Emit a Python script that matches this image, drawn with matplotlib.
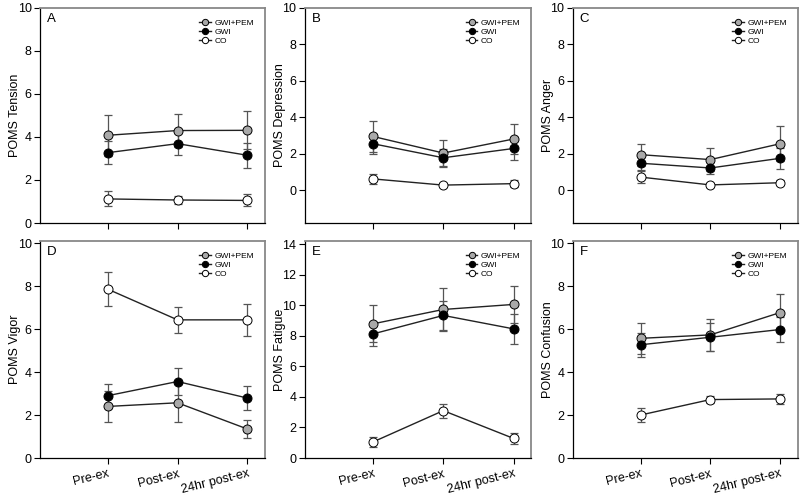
import matplotlib
matplotlib.use("Agg")
import matplotlib.pyplot as plt
import numpy as np

plt.rcParams['font.family'] = ['Liberation Sans', 'DejaVu Sans']

timepoints = ['Pre-ex', 'Post-ex', '24hr post-ex']
groups = ['GWI+PEM', 'GWI', 'CO']
group_faces = {'GWI+PEM': '#a9a9a9', 'GWI': 'black', 'CO': 'white'}

# mean and SEM per panel, per group (Pre-ex, Post-ex, 24hr post-ex)
tension_mean = {'GWI+PEM': [4.08, 4.30, 4.31], 'GWI': [3.27, 3.69, 3.15], 'CO': [1.12, 1.07, 1.05]}
tension_err = {'GWI+PEM': [0.95, 0.78, 0.89], 'GWI': [0.54, 0.55, 0.57], 'CO': [0.35, 0.2, 0.28]}

depression_mean = {'GWI+PEM': [2.95, 2.04, 2.81], 'GWI': [2.55, 1.78, 2.29], 'CO': [0.62, 0.28, 0.36]}
depression_err = {'GWI+PEM': [0.86, 0.7, 0.84], 'GWI': [0.55, 0.5, 0.62], 'CO': [0.28, 0.1, 0.18]}

anger_mean = {'GWI+PEM': [1.95, 1.68, 2.55], 'GWI': [1.48, 1.22, 1.75], 'CO': [0.72, 0.29, 0.41]}
anger_err = {'GWI+PEM': [0.6, 0.62, 0.95], 'GWI': [0.37, 0.33, 0.58], 'CO': [0.35, 0.12, 0.15]}

vigor_mean = {'GWI+PEM': [2.4, 2.57, 1.35], 'GWI': [2.9, 3.56, 2.79], 'CO': [7.86, 6.43, 6.43]}
vigor_err = {'GWI+PEM': [0.71, 0.88, 0.41], 'GWI': [0.56, 0.62, 0.55], 'CO': [0.8, 0.62, 0.75]}

fatigue_mean = {'GWI+PEM': [8.78, 9.72, 10.05], 'GWI': [8.12, 9.33, 8.45], 'CO': [1.05, 3.1, 1.28]}
fatigue_err = {'GWI+PEM': [1.22, 1.4, 1.2], 'GWI': [0.78, 0.95, 1.0], 'CO': [0.33, 0.45, 0.35]}

confusion_mean = {'GWI+PEM': [5.57, 5.73, 6.77], 'GWI': [5.27, 5.62, 5.98], 'CO': [2.0, 2.72, 2.75]}
confusion_err = {'GWI+PEM': [0.71, 0.75, 0.86], 'GWI': [0.55, 0.65, 0.6], 'CO': [0.33, 0.18, 0.25]}

panels = [
    ('A', 'POMS Tension', tension_mean, tension_err, (0, 10), [0, 2, 4, 6, 8, 10]),
    ('B', 'POMS Depression', depression_mean, depression_err, (-1.8, 10), [0, 2, 4, 6, 8, 10]),
    ('C', 'POMS Anger', anger_mean, anger_err, (-1.8, 10), [0, 2, 4, 6, 8, 10]),
    ('D', 'POMS Vigor', vigor_mean, vigor_err, (0, 10.1), [0, 2, 4, 6, 8, 10]),
    ('E', 'POMS Fatigue', fatigue_mean, fatigue_err, (0, 14.2), [0, 2, 4, 6, 8, 10, 12, 14]),
    ('F', 'POMS Confusion', confusion_mean, confusion_err, (0, 10.1), [0, 2, 4, 6, 8, 10]),
]

fig = plt.figure(figsize=(8, 4.96), dpi=100)
lefts = [0.05, 0.381, 0.716]
widths = [0.281, 0.283, 0.281]
rows = [(0.5504, 0.4335), (0.0766, 0.4375)]

x = np.arange(1, 4)
for i, (letter, ylabel, means, errs, ylim, yticks) in enumerate(panels):
    r, c = divmod(i, 3)
    ax = fig.add_axes([lefts[c], rows[r][0], widths[c], rows[r][1]])
    for g in groups:
        ax.errorbar(x, means[g], yerr=errs[g], fmt='none', ecolor='#555555',
                    elinewidth=0.9, capsize=3, capthick=0.9, zorder=2)
        ax.plot(x, means[g], '-o', color='#222222', lw=1, mfc=group_faces[g],
                mec='black', mew=0.7, ms=6.5, label=g, zorder=3)
    ax.set_xlim(0.03, 3.25)
    ax.set_ylim(*ylim)
    ax.set_yticks(yticks)
    ax.set_xticks(x)
    if r == 1:
        ax.set_xticklabels(timepoints, rotation=14, fontsize=9, ha='right',
                           rotation_mode='anchor')
    else:
        ax.set_xticklabels([])
    ax.tick_params(axis='y', labelsize=9, length=4, direction='out', pad=2)
    ax.tick_params(axis='x', length=4, direction='out', pad=3)
    ax.set_ylabel(ylabel, fontsize=9)
    ax.yaxis.set_label_coords(-0.085, 0.5)
    for s in ['top', 'right']:
        ax.spines[s].set_color('#888888')
        ax.spines[s].set_linewidth(1.3)
    for s in ['left', 'bottom']:
        ax.spines[s].set_linewidth(0.9)
    ax.text(0.03, 0.975, letter, transform=ax.transAxes, fontsize=9.5,
            ha='left', va='top')
    ax.legend(loc='upper right', fontsize=6, frameon=False,
              handlelength=1.4, handletextpad=0.4, labelspacing=0.15,
              borderaxespad=0.9, markerscale=0.7)

fig.savefig('out.png', dpi=100)
